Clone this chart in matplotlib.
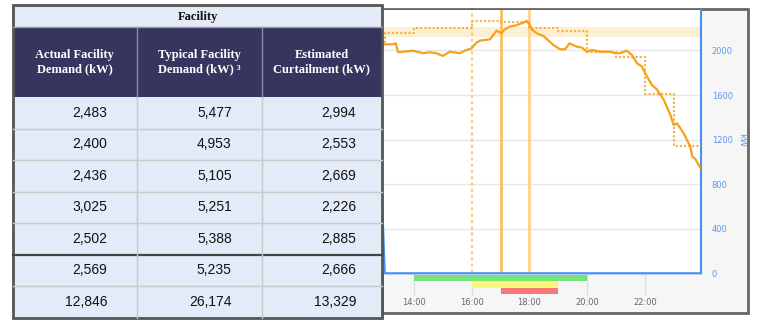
import matplotlib
matplotlib.use("Agg")
import matplotlib.pyplot as plt
from matplotlib.patches import Rectangle
import matplotlib.transforms as mtransforms

# ---------------- data ----------------
table_title = "Facility"
col_headers = ["Actual Facility\nDemand (kW)", "Typical Facility\nDemand (kW) \u00b3", "Estimated\nCurtailment (kW)"]
actual_demand = ["2,483", "2,400", "2,436", "3,025", "2,502", "2,569", "12,846"]
typical_demand = ["5,477", "4,953", "5,105", "5,251", "5,388", "5,235", "26,174"]
curtailment = ["2,994", "2,553", "2,669", "2,226", "2,885", "2,666", "13,329"]

actual_h = [12.92, 13.26, 13.36, 13.44, 13.96, 14.31, 14.54, 14.77, 15.00, 15.24, 15.58, 15.76,
            15.99, 16.16, 16.28, 16.63, 16.86, 17.03, 17.15, 17.32, 17.55, 17.79, 17.90, 17.99,
            18.08, 18.25, 18.48, 18.83, 19.06, 19.24, 19.39, 19.64, 19.82, 19.99, 20.16, 20.45,
            20.80, 20.97, 21.13, 21.38, 21.55, 21.73, 21.90, 22.08, 22.25, 22.42, 22.66, 22.89,
            23.00, 23.12, 23.35, 23.58, 23.64, 23.76, 23.93]
actual_kw = [2055, 2055, 2064, 1984, 1998, 1975, 1984, 1975, 1951, 1989, 1975, 1998,
             2019, 2070, 2088, 2100, 2178, 2154, 2190, 2214, 2226, 2250, 2265, 2238,
             2190, 2154, 2130, 2049, 2011, 2011, 2064, 2034, 2025, 1989, 2004, 1989,
             1989, 1975, 1975, 1998, 1960, 1885, 1855, 1765, 1690, 1651, 1556, 1421,
             1331, 1346, 1256, 1137, 1053, 1023, 943]

typical_h = [12, 13, 14, 15, 16, 17, 18, 19, 20, 21, 22, 23, 24]
typical_kw = [2067, 2154, 2199, 2199, 2265, 2253, 2205, 2175, 1989, 1939, 1607, 1145, 1145]

blue_h = [12.88, 12.98, 23.94]
blue_kw = [700, 0, 0]

band_kw = (2124, 2214)
y_ticks = [0, 400, 800, 1200, 1600, 2000]
x_ticks = [14, 16, 18, 20, 22]
x_labels = ["14:00", "16:00", "18:00", "20:00", "22:00"]
green_span = (14, 20)
yellow_span = (16, 19)
red_span = (17, 19)
dotted_vline = 16
solid_vlines = [17, 18]

# ---------------- figure ----------------
W, H = 768, 322
fig = plt.figure(figsize=(W / 100, H / 100), dpi=100)
fig.patch.set_facecolor("white")

# background canvas (pixel coords)
bg = fig.add_axes([0, 0, 1, 1], zorder=0)
bg.set_xlim(0, W); bg.set_ylim(H, 0); bg.axis("off")
bg.add_patch(Rectangle((382, 9), 366, 304, facecolor="#f6f6f6", edgecolor="#666666", lw=2))

# chart axes
px_l, px_r, px_t, px_b = 381, 700.7, 10, 273.3
ax = fig.add_axes([px_l / W, (H - px_b) / H, (px_r - px_l) / W, (px_b - px_t) / H], zorder=1)
ax.set_facecolor("white")
ax.set_xlim(12.85, 23.94)
ax.set_ylim(0, 2363)

ax.axhspan(*band_kw, color="#fdefd3", zorder=1, lw=0)
for v in y_ticks[1:]:
    ax.axhline(v, color="#e6e6e6", lw=1, zorder=1)

ax.axvline(dotted_vline, color="#ffc978", lw=1.5, ls=(0, (1.5, 1.5)), zorder=2)
ax.axvline(solid_vlines[0], color="#fbbf62", lw=2, zorder=2)
ax.axvline(solid_vlines[1], color="#ffd08c", lw=2, zorder=2)

ax.step(typical_h, typical_kw, where="post", color="#f8b03a", lw=1.5, ls=(0, (1, 1)), zorder=3)
ax.plot(actual_h, actual_kw, color="#f8a01c", lw=1.6, zorder=4)
ax.plot(blue_h, blue_kw, color="#4a90f0", lw=1.6, zorder=5, clip_on=False)

for s in ["left", "top", "bottom"]:
    ax.spines[s].set_visible(False)
ax.spines["right"].set_color("#4a90f0")
ax.spines["right"].set_linewidth(1.5)

ax.yaxis.tick_right()
ax.set_yticks(y_ticks)
ax.set_yticklabels([str(v) for v in y_ticks])
ax.tick_params(axis="y", length=0, pad=8, labelcolor="#5f97ef", labelsize=6)
ax.set_xticks(x_ticks)
ax.set_xticklabels(x_labels)
ax.tick_params(axis="x", length=16, width=1, color="#d6deeb", pad=1.5, labelcolor="#666666", labelsize=6)

trans = mtransforms.blended_transform_factory(ax.transData, ax.transAxes)
hgt = px_b - px_t
def bar(span, y0px, y1px, color):
    ax.add_patch(Rectangle((span[0], -(y1px - px_b) / hgt), span[1] - span[0], (y1px - y0px) / hgt,
                           transform=trans, facecolor=color, edgecolor="none", clip_on=False, zorder=6))
bar(green_span, 275.3, 281, "#77e27a")
bar(yellow_span, 281, 287.7, "#f8f77c")
bar(red_span, 287.7, 294.3, "#f87878")

fig.text(742 / W, 1 - 140 / H, "kW", color="#5f97ef", fontsize=6.5, rotation=-90, ha="center", va="center")

# ---------------- table overlay ----------------
tb = fig.add_axes([0, 0, 1, 1], zorder=3)
tb.set_xlim(0, W); tb.set_ylim(H, 0); tb.axis("off")
tb.patch.set_alpha(0)

L, R, T, B = 13, 382, 5, 317.5
title_b = 27
head_b = 97
col_x = [L, 136.7, 261.7, R]
row_h = (B - head_b) / 7
light = "#e3eaf8"
navy = "#37355f"

tb.add_patch(Rectangle((L, T), R - L, title_b - T, facecolor=light, edgecolor="none"))
tb.add_patch(Rectangle((L, title_b), R - L, head_b - title_b, facecolor=navy, edgecolor="none"))
tb.add_patch(Rectangle((L, head_b), R - L, B - head_b, facecolor=light, edgecolor="none"))

serif = ["Liberation Serif", "DejaVu Serif"]
tb.text((L + R) / 2, (T + title_b) / 2 + 0.5, table_title, ha="center", va="center",
        fontsize=9, fontweight="bold", family=serif, color="#111111")
for i, h in enumerate(col_headers):
    cx = (col_x[i] + col_x[i + 1]) / 2
    tb.text(cx, 62, h, ha="center", va="center", fontsize=9, fontweight="bold",
            family=serif, color="white", linespacing=1.25)

# grid lines
for i in range(1, 7):
    y = head_b + i * row_h
    if i == 5:
        tb.plot([L, R], [y, y], color="#444444", lw=1.6)
    else:
        tb.plot([L, R], [y, y], color="#c9c9c9", lw=1)
for x in col_x[1:3]:
    tb.plot([x, x], [title_b, head_b], color="#8a8aa0", lw=1)
    tb.plot([x, x], [head_b, B], color="#c9c9c9", lw=1)
tb.plot([L, R], [title_b, title_b], color="#9a9a9a", lw=1)

right_x = [107, 231.7, 356]
for r in range(7):
    yc = head_b + (r + 0.5) * row_h
    for c, col in enumerate([actual_demand, typical_demand, curtailment]):
        tb.text(right_x[c], yc, col[r], ha="right", va="center", fontsize=10,
                family=["Liberation Sans", "DejaVu Sans"], color="#111111")

tb.add_patch(Rectangle((L, T), R - L, B - T, facecolor="none", edgecolor="#555555", lw=2))

fig.savefig("out.png", dpi=100)
